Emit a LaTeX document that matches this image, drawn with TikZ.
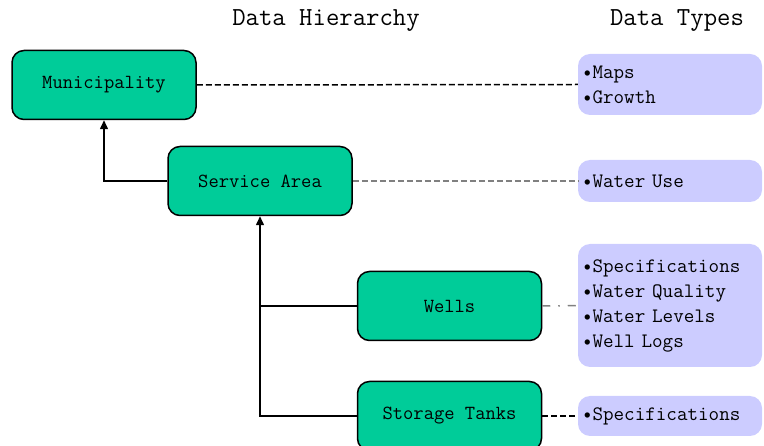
\documentclass[tikz,border=0pt]{standalone}
\usepackage{fontspec}
\usetikzlibrary{arrows.meta,positioning}
\definecolor{boxgreen}{HTML}{00CC99}
\definecolor{typeblue}{HTML}{CCCCFF}
\tikzset{
  entity/.style={draw, fill=boxgreen, line width=1.5pt, rounded corners=12pt, minimum width=184pt, minimum height=69pt, font=\fontsize{20}{24}\selectfont\ttfamily},
  typebox/.style={fill=typeblue, rounded corners=12pt, minimum width=184pt, text width=176pt, inner sep=4pt, align=left, font=\fontsize{20.5}{25}\selectfont\ttfamily},
  title/.style={font=\fontsize{26}{30}\selectfont\ttfamily},
  edge/.style={-{Triangle[length=9pt,width=8pt]}, line width=1.5pt},
  link/.style={dash pattern=on 6pt off 3pt, line width=1.5pt}
}
\begin{document}
\begin{tikzpicture}[x=1pt, y=-1pt]
\clip (0,0) rectangle (764,446);
\node[title] (hier) at (326,21) {Data Hierarchy};
\node[title] (types) at (677,21) {Data Types};
\node[entity] (muni) at (104,85) {Municipality};
\node[entity] (serv) at (260,181) {Service Area};
\node[entity] (wells) at (449.5,306) {Wells};
\node[entity] (tanks) at (449.5,416) {Storage Tanks};
\node[typebox, minimum height=61pt] (t1) at (670,84.5) {\textbullet Maps\\\textbullet Growth};
\node[typebox, minimum height=42pt] (t2) at (670,181) {\textbullet Water Use};
\node[typebox, minimum height=123pt] (t3) at (670,305.5) {\textbullet Specifications\\\textbullet Water Quality\\\textbullet Water Levels\\\textbullet Well Logs};
\node[typebox, minimum height=40pt] (t4) at (670,416) {\textbullet Specifications};
\draw[edge] (serv.west) -| (muni.south);
\draw[edge] (tanks.west) -| (serv.south);
\draw[line width=1.5pt] (wells.west) -- (wells.west -| serv.south);
\draw[link] (muni.east) -- (t1.west);
\draw[link, gray] (serv.east) -- (t2.west);
\draw[line width=1.5pt, gray, dash pattern=on 8pt off 8pt on 1.5pt off 8pt] (wells.east) -- (t3.west);
\draw[link] (tanks.east) -- (t4.west);
\end{tikzpicture}
\end{document}
